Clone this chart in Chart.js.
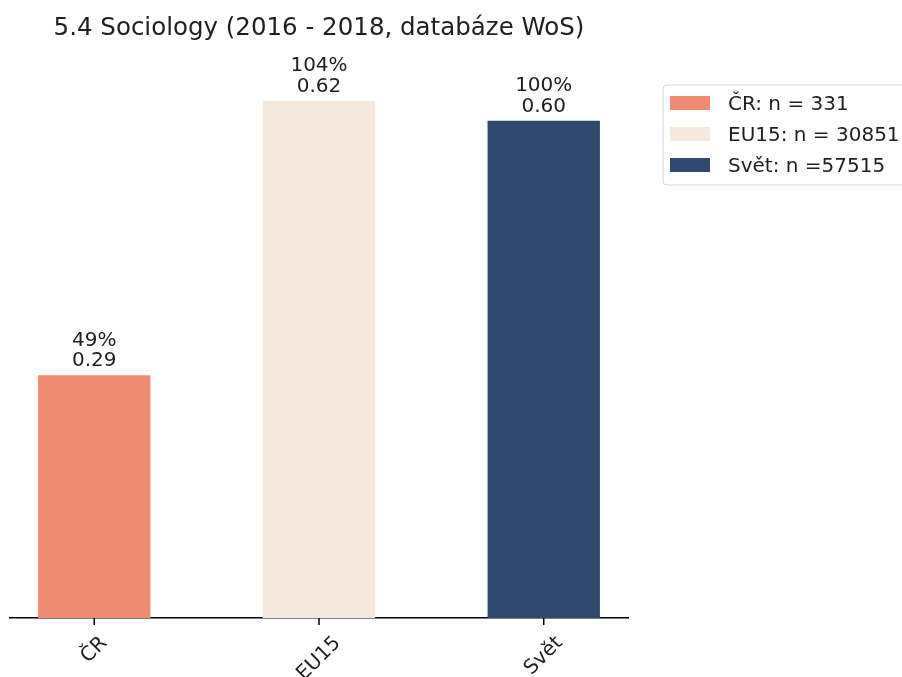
<!DOCTYPE html>
<html>
<head>
<meta charset="utf-8">
<script src="https://cdn.jsdelivr.net/npm/chart.js@4/dist/chart.umd.min.js"></script>
<style>
  html, body { margin: 0; padding: 0; background: #ffffff; }
  #wrap { width: 902px; height: 677px; }
</style>
</head>
<body>
<div id="wrap"><canvas id="c" width="902" height="677"></canvas></div>
<script>
const titleText = '5.4 Sociology (2016 - 2018, databáze WoS)';
const categories = ['ČR', 'EU15', 'Svět'];
const values = [0.293, 0.624, 0.600];
const percentLabels = ['49%', '104%', '100%'];
const valueLabels = ['0.29', '0.62', '0.60'];
const legendLabels = ['ČR: n = 331', 'EU15: n = 30851', 'Svět: n =57515'];
const barColors = ['#EE8B72', '#F4E9DC', '#2E4A6D'];

const FONT = '"DejaVu Sans", "Liberation Sans", sans-serif';
const TEXT = '#1f1f1f';

const decorations = {
  id: 'decorations',
  afterDraw(chart) {
    const ctx = chart.ctx;
    const xs = chart.scales.x;
    const area = chart.chartArea;
    ctx.save();

    // title
    ctx.fillStyle = TEXT;
    ctx.font = '24.5px ' + FONT;
    ctx.textAlign = 'center';
    ctx.textBaseline = 'alphabetic';
    ctx.fillText(titleText, (area.left + area.right) / 2, 35);

    // tick marks + rotated tick labels
    ctx.strokeStyle = '#000';
    ctx.lineWidth = 1.5;
    ctx.font = '20px ' + FONT;
    categories.forEach((cat, i) => {
      const px = xs.getPixelForValue(i);
      ctx.beginPath();
      ctx.moveTo(px, area.bottom);
      ctx.lineTo(px, area.bottom + 7);
      ctx.stroke();
      const w = ctx.measureText(cat).width;
      const h = 23;
      const bb = (w + h) * Math.SQRT1_2;
      ctx.save();
      ctx.translate(px, area.bottom + 14 + bb / 2);
      ctx.rotate(-Math.PI / 4);
      ctx.textAlign = 'center';
      ctx.textBaseline = 'middle';
      ctx.fillStyle = TEXT;
      ctx.fillText(cat, 0, 0);
      ctx.restore();
    });

    // bar value labels
    const meta = chart.getDatasetMeta(0);
    ctx.font = '20px ' + FONT;
    ctx.textAlign = 'center';
    ctx.textBaseline = 'alphabetic';
    ctx.fillStyle = TEXT;
    meta.data.forEach((bar, i) => {
      ctx.fillText(percentLabels[i], bar.x, bar.y - 29.5);
      ctx.fillText(valueLabels[i], bar.x, bar.y - 9);
    });

    // legend
    const lx = 663, ly = 85, lw = 260, lh = 100, r = 4;
    ctx.beginPath();
    ctx.moveTo(lx + r, ly);
    ctx.lineTo(lx + lw - r, ly);
    ctx.arcTo(lx + lw, ly, lx + lw, ly + r, r);
    ctx.lineTo(lx + lw, ly + lh - r);
    ctx.arcTo(lx + lw, ly + lh, lx + lw - r, ly + lh, r);
    ctx.lineTo(lx + r, ly + lh);
    ctx.arcTo(lx, ly + lh, lx, ly + lh - r, r);
    ctx.lineTo(lx, ly + r);
    ctx.arcTo(lx, ly, lx + r, ly, r);
    ctx.closePath();
    ctx.fillStyle = 'rgba(255,255,255,0.8)';
    ctx.fill();
    ctx.strokeStyle = '#d6d6d6';
    ctx.lineWidth = 1;
    ctx.stroke();

    ctx.font = '20px ' + FONT;
    ctx.textAlign = 'left';
    ctx.textBaseline = 'alphabetic';
    legendLabels.forEach((lab, i) => {
      const yb = 110 + i * 31;
      ctx.fillStyle = barColors[i];
      ctx.fillRect(670, yb - 14, 40, 14);
      ctx.fillStyle = TEXT;
      ctx.fillText(lab, 728, yb);
    });

    ctx.restore();
  }
};

const ctx = document.getElementById('c').getContext('2d');
new Chart(ctx, {
  type: 'bar',
  data: {
    datasets: [{
      data: values.map((v, i) => ({ x: i, y: v })),
      backgroundColor: barColors,
      borderWidth: 0,
      categoryPercentage: 1.0,
      barPercentage: 0.5
    }]
  },
  options: {
    responsive: false,
    devicePixelRatio: 1,
    animation: false,
    events: [],
    layout: { padding: { left: 10, right: 274, top: 75, bottom: 59 } },
    plugins: {
      legend: { display: false },
      title: { display: false },
      tooltip: { enabled: false }
    },
    scales: {
      x: {
        type: 'linear',
        offset: false,
        min: -0.375,
        max: 2.375,
        afterBuildTicks: (s) => { s.ticks = [0, 1, 2].map(v => ({ value: v })); },
        afterFit: (s) => { s.height = 0; },
        ticks: { display: false },
        grid: { display: false, drawTicks: false, offset: false },
        border: { display: true, color: '#000', width: 1.5 }
      },
      y: {
        display: false,
        min: 0,
        max: 0.6552
      }
    }
  },
  plugins: [decorations]
});
</script>
</body>
</html>
